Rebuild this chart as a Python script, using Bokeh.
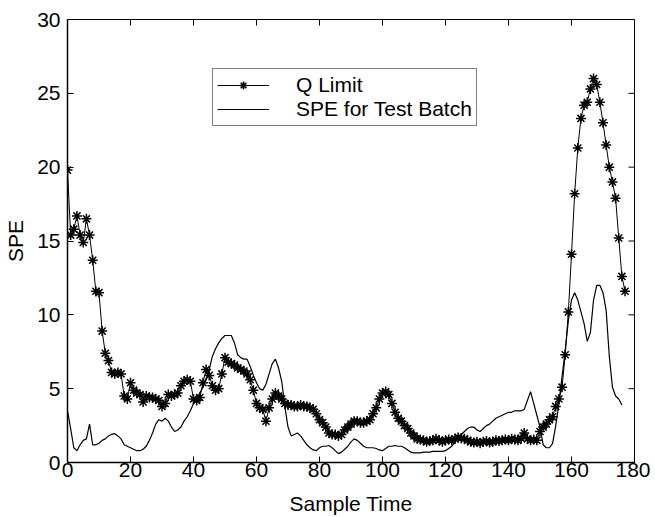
import math
from bokeh.plotting import figure
from bokeh.models import Legend, LegendItem, FixedTicker, Range1d
from bokeh.embed import file_html
from bokeh.resources import INLINE

# ---- data ----
q_limit = [
    19.8, 15.4, 15.8, 16.7, 15.4, 14.9, 16.5, 15.4, 13.7, 11.6,
    11.5, 8.9, 7.4, 6.9, 6.1, 6.0, 6.1, 6.0, 4.5, 4.3,
    5.4, 4.9, 4.7, 4.6, 4.1, 4.5, 4.4, 4.4, 4.3, 4.2,
    3.8, 4.0, 4.6, 4.5, 4.6, 4.7, 5.2, 5.5, 5.6, 5.5,
    4.3, 4.2, 4.4, 5.4, 6.3, 5.9, 5.2, 4.9, 5.0, 6.0,
    7.1, 6.8, 6.7, 6.6, 6.4, 6.3, 6.2, 6.0, 5.6, 4.9,
    4.0, 3.7, 3.6, 2.8, 3.7, 4.3, 4.7, 4.5, 4.3, 4.0,
    3.9, 3.9, 3.8, 3.8, 3.9, 3.8, 3.8, 3.7, 3.6, 3.3,
    2.9, 2.7, 2.4, 2.0, 1.9, 1.9, 1.8, 1.9, 2.2, 2.4,
    2.6, 2.8, 2.8, 2.7, 2.7, 2.8, 2.9, 3.3, 3.7, 4.3,
    4.7, 4.8, 4.6, 4.0, 3.4, 3.0, 2.8, 2.5, 2.3, 2.0,
    1.8, 1.6, 1.55, 1.5, 1.4, 1.45, 1.5, 1.6, 1.5, 1.4,
    1.5, 1.55, 1.5, 1.6, 1.7, 1.65, 1.6, 1.5, 1.4, 1.35,
    1.4, 1.3, 1.4, 1.45, 1.35, 1.4, 1.5, 1.45, 1.5, 1.55,
    1.5, 1.6, 1.55, 1.5, 1.65, 2.0, 1.6, 1.5, 1.55, 1.5,
    2.1, 2.4, 2.6, 2.9, 3.1, 3.8, 4.3, 5.1, 7.3, 10.2,
    14.1, 18.2, 21.3, 23.3, 24.2, 24.4, 25.3, 26.0, 25.6, 24.4,
    23.0, 21.5, 20.0, 19.0, 17.9, 15.2, 12.6, 11.6,
]
spe_test = [
    3.5, 2.3, 1.0, 0.8, 1.2, 1.5, 1.6, 2.6, 1.2, 1.2,
    1.3, 1.5, 1.6, 1.8, 1.9, 1.95, 1.8, 1.6, 1.2, 1.1,
    1.0, 0.9, 0.8, 0.8, 0.9, 1.1, 1.5, 2.0, 2.6, 2.9,
    2.8, 3.0, 2.8, 2.4, 2.1, 2.2, 2.4, 2.8, 3.1, 3.5,
    4.0, 4.3, 4.7, 5.1, 5.6, 6.3, 7.2, 7.7, 8.1, 8.4,
    8.6, 8.6, 8.6, 8.1, 7.3, 7.1, 7.0, 7.0, 6.5, 5.9,
    5.4, 5.0, 4.9, 5.3, 6.0, 6.7, 7.0, 6.4, 5.5, 3.8,
    2.4, 1.8, 1.9, 2.0, 1.8, 1.5, 1.2, 1.0, 0.85, 0.8,
    1.0, 1.1, 1.1, 1.15, 1.0, 0.8, 0.6, 0.7, 0.9, 1.1,
    1.4, 1.6, 1.5, 1.3, 1.1, 1.0, 1.0, 1.0, 0.95, 0.85,
    0.8, 0.95, 1.1, 1.1, 1.15, 1.1, 1.1, 1.0, 0.85, 0.7,
    0.65, 0.65, 0.65, 0.7, 0.7, 0.7, 0.75, 0.75, 0.75, 0.75,
    0.8, 0.95, 1.1, 1.4, 1.7, 1.9, 2.1, 2.3, 2.4, 2.4,
    2.2, 2.1, 2.3, 2.5, 2.6, 2.8, 3.0, 3.1, 3.2, 3.3,
    3.4, 3.4, 3.5, 3.5, 3.5, 3.6, 4.2, 4.8, 4.0, 3.2,
    2.4, 1.2, 1.0, 1.0, 1.3, 2.5, 4.0, 5.8, 7.6, 9.6,
    11.0, 11.5, 11.0, 10.2, 9.4, 8.2, 8.8, 11.0, 12.0, 12.0,
    11.5, 10.3, 7.2, 5.1, 4.5, 4.3, 3.9,
]
q_time = list(range(len(q_limit)))
spe_time = list(range(len(spe_test)))

x_ticks = [0, 20, 40, 60, 80, 100, 120, 140, 160, 180]
y_ticks = [0, 5, 10, 15, 20, 25, 30]
x_lim = (0, 180)
y_lim = (0, 30)
series_labels = ["Q Limit", "SPE for Test Batch"]
x_label = "Sample Time"
y_label = "SPE"

FONT = "Liberation Sans"
FS = "21px"

p = figure(width=650, height=517, output_backend="svg", toolbar_location=None,
           x_range=Range1d(*x_lim), y_range=Range1d(*y_lim),
           min_border_left=67, min_border_right=16, min_border_top=19,
           min_border_bottom=54)
p.background_fill_color = "white"
p.border_fill_color = "white"
p.outline_line_color = "black"
p.outline_line_width = 1
p.grid.visible = False

for ax in (p.xaxis[0], p.yaxis[0]):
    ax.major_label_text_font = FONT
    ax.major_label_text_font_size = FS
    ax.major_label_text_color = "black"
    ax.axis_label_text_font = FONT
    ax.axis_label_text_font_size = FS
    ax.axis_label_text_font_style = "normal"
    ax.axis_label_text_color = "black"
    ax.major_tick_in = 6
    ax.major_tick_out = 0
    ax.minor_tick_line_color = None
    ax.axis_line_color = "black"
    ax.axis_line_width = 1.5
    ax.major_tick_line_color = "black"

p.xaxis[0].ticker = FixedTicker(ticks=x_ticks)
p.yaxis[0].ticker = FixedTicker(ticks=y_ticks)
p.xaxis[0].axis_label = x_label
p.yaxis[0].axis_label = y_label
p.xaxis[0].major_label_standoff = 0
p.xaxis[0].axis_label_standoff = 12
p.yaxis[0].major_label_standoff = 7
p.yaxis[0].axis_label_standoff = 7

# mirrored inward ticks on top and right (MATLAB box style); clipped to the frame
p.scatter(x_ticks, [y_lim[1]] * len(x_ticks), marker="dash", angle=math.pi / 2,
          size=12, line_color="black", line_width=1)
p.scatter([x_lim[1]] * len(y_ticks), y_ticks, marker="dash", angle=0,
          size=12, line_color="black", line_width=1)

spe_line = p.line(spe_time, spe_test, line_color="black", line_width=1.2)
q_line = p.line(q_time, q_limit, line_color="black", line_width=1)
q_pts = p.scatter(q_time, q_limit, marker="asterisk", size=10,
                  line_color="black", line_width=1.5)

legend = Legend(items=[
    LegendItem(label=series_labels[0], renderers=[q_line, q_pts]),
    LegendItem(label=series_labels[1], renderers=[spe_line]),
], location=(145, 336))
legend.label_text_font = FONT
legend.label_text_font_size = FS
legend.label_text_color = "black"
legend.glyph_width = 52
legend.label_standoff = 27
legend.padding = 4
legend.spacing = 0
legend.margin = 0
legend.label_height = 20
legend.glyph_height = 20
legend.border_line_color = "black"
legend.border_line_width = 1
legend.background_fill_color = "white"
legend.background_fill_alpha = 1
p.add_layout(legend, "center")

open("out.html", "w").write(file_html(p, INLINE))
